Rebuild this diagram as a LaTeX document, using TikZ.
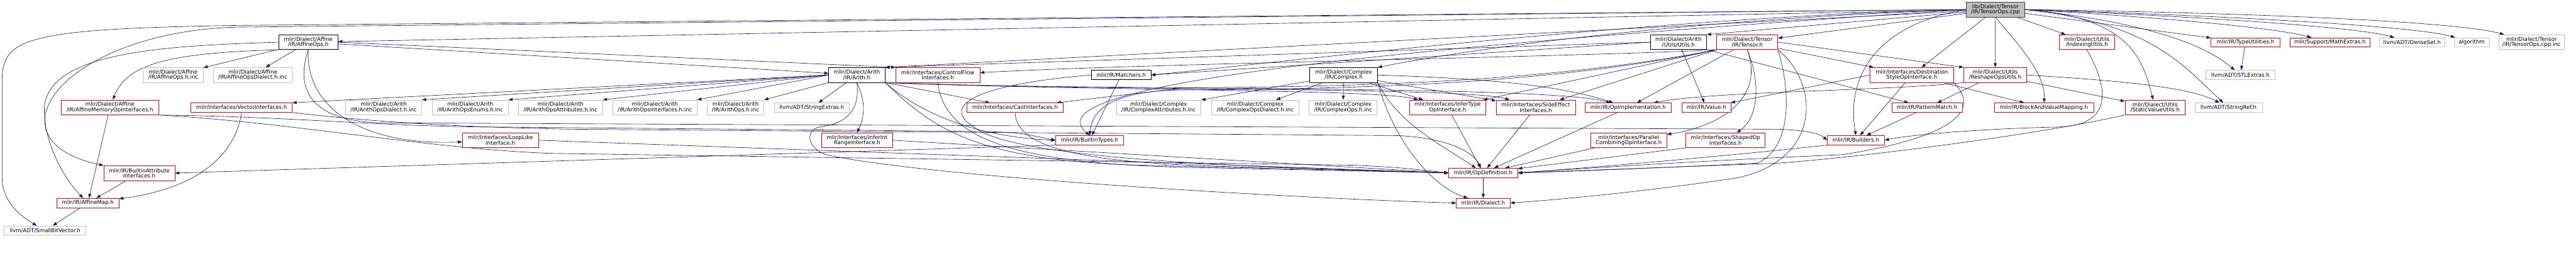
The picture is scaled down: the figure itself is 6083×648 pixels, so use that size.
\documentclass[tikz,border=0pt]{standalone}
\usepackage{fontspec}
\setmainfont{DejaVu Sans}
\usetikzlibrary{arrows.meta,backgrounds}

\definecolor{azulnoche}{HTML}{191970}
\definecolor{grisclaro}{HTML}{BFBFBF}

\begin{document}
\begin{tikzpicture}[x=0.75pt,y=0.75pt,
  caja/.style={draw,fill=white,line width=0.75pt,inner xsep=2pt,inner ysep=1pt,
    align=center,font=\fontsize{9.6}{9.4}\selectfont},
  wd/.style={minimum width=#1*0.75pt},
  ln1/.style={minimum height=16.5pt},
  ln2/.style={minimum height=26.25pt},
  doc/.style={caja,draw=black},
  trunc/.style={caja,draw=red},
  ext/.style={caja,draw=grisclaro},
  raiz/.style={caja,draw=black!75,fill=grisclaro},
  inc/.style={draw=azulnoche,line width=0.7pt,-{Triangle[length=7.5pt,width=5.5pt]}}]
  \useasboundingbox (0,0) rectangle (6083,-648);

  % Nodo raiz
  \node[raiz,wd=138,ln2] (root) at (4712,-22.5) {lib/Dialect/Tensor\\/IR/TensorOps.cpp};

  % Fila 2
  \node[doc,wd=140,ln2] (affops) at (728,-99.5) {mlir/Dialect/Affine\\/IR/AffineOps.h};
  \node[doc,wd=133,ln2] (aruti) at (3963.5,-99.5) {mlir/Dialect/Arith\\/Utils/Utils.h};
  \node[trunc,wd=144,ln2] (tensorh) at (4126,-99.5) {mlir/Dialect/Tensor\\/IR/Tensor.h};
  \node[trunc,wd=132,ln2] (indexu) at (4928,-99.5) {mlir/Dialect/Utils\\/IndexingUtils.h};
  \node[trunc,wd=163,ln1] (typeu) at (5302.5,-100) {mlir/IR/TypeUtilities.h};
  \node[trunc,wd=188,ln1] (mathx) at (5502,-100) {mlir/Support/MathExtras.h};
  \node[ext,wd=154,ln1] (dset) at (5696,-100) {llvm/ADT/DenseSet.h};
  \node[ext,wd=83,ln1] (algo) at (5836.5,-100) {algorithm};
  \node[ext,wd=154,ln2] (cppinc) at (5978,-99.5) {mlir/Dialect/Tensor\\/IR/TensorOps.cpp.inc};

  % Fila 3
  \node[ext,wd=142,ln2] (affinc) at (409,-177) {mlir/Dialect/Affine\\/IR/AffineOps.h.inc};
  \node[ext,wd=186,ln2] (affdinc) at (597,-177) {mlir/Dialect/Affine\\/IR/AffineOpsDialect.h.inc};
  \node[doc,wd=133,ln2] (arith) at (2023.5,-177) {mlir/Dialect/Arith\\/IR/Arith.h};
  \node[trunc,wd=199,ln2] (cflow) at (2214.5,-177) {mlir/Interfaces/ControlFlow\\Interfaces.h};
  \node[doc,wd=141,ln1] (matchers) at (2647.5,-177) {mlir/IR/Matchers.h};
  \node[doc,wd=160,ln2] (complex) at (3173,-177) {mlir/Dialect/Complex\\/IR/Complex.h};
  \node[trunc,wd=197,ln2] (dstyle) at (4514.5,-177) {mlir/Interfaces/Destination\\StyleOpInterface.h};
  \node[trunc,wd=149,ln2] (reshape) at (4711.5,-177) {mlir/Dialect/Utils\\/ReshapeOpsUtils.h};
  \node[ext,wd=163,ln1] (stlx) at (5290.5,-177) {llvm/ADT/STLExtras.h};

  % Fila 4
  \node[trunc,wd=231,ln2] (affmem) at (259.5,-253.5) {mlir/Dialect/Affine\\/IR/AffineMemoryOpInterfaces.h};
  \node[trunc,wd=239,ln1] (vecif) at (570.5,-254) {mlir/Interfaces/VectorInterfaces.h};
  \node[ext,wd=180,ln2] (arodinc) at (906,-253.5) {mlir/Dialect/Arith\\/IR/ArithOpsDialect.h.inc};
  \node[ext,wd=179,ln2] (aroeinc) at (1110.5,-253.5) {mlir/Dialect/Arith\\/IR/ArithOpsEnums.h.inc};
  \node[ext,wd=199,ln2] (aroainc) at (1323.5,-253.5) {mlir/Dialect/Arith\\/IR/ArithOpsAttributes.h.inc};
  \node[ext,wd=199,ln2] (aroiinc) at (1546.5,-253.5) {mlir/Dialect/Arith\\/IR/ArithOpsInterfaces.h.inc};
  \node[ext,wd=134,ln2] (aroinc) at (1737,-253.5) {mlir/Dialect/Arith\\/IR/ArithOps.h.inc};
  \node[ext,wd=178,ln1] (strx) at (1917,-254) {llvm/ADT/StringExtras.h};
  \node[trunc,wd=228,ln1] (castif) at (2397,-254) {mlir/Interfaces/CastInterfaces.h};
  \node[ext,wd=200,ln2] (cpxainc) at (2736,-253.5) {mlir/Dialect/Complex\\/IR/ComplexAttributes.h.inc};
  \node[ext,wd=206,ln2] (cpxdinc) at (2964,-253.5) {mlir/Dialect/Complex\\/IR/ComplexOpsDialect.h.inc};
  \node[ext,wd=161,ln2] (cpxoinc) at (3171.5,-253.5) {mlir/Dialect/Complex\\/IR/ComplexOps.h.inc};
  \node[trunc,wd=181,ln2] (inftype) at (3418.5,-253.5) {mlir/Interfaces/InferType\\OpInterface.h};
  \node[trunc,wd=187,ln2] (sideeff) at (3626.5,-253.5) {mlir/Interfaces/SideEffect\\Interfaces.h};
  \node[trunc,wd=203,ln1] (opimpl) at (3844.5,-254) {mlir/IR/OpImplementation.h};
  \node[trunc,wd=117,ln1] (value) at (4029.5,-254) {mlir/IR/Value.h};
  \node[trunc,wd=167,ln1] (patmatch) at (4550.5,-254) {mlir/IR/PatternMatch.h};
  \node[trunc,wd=235,ln1] (bvmap) at (4826.5,-254) {mlir/IR/BlockAndValueMapping.h};
  \node[trunc,wd=142,ln2] (staticv) at (5089,-253.5) {mlir/Dialect/Utils\\/StaticValueUtils.h};
  \node[ext,wd=159,ln1] (strref) at (5262.5,-254) {llvm/ADT/StringRef.h};

  % Fila 5
  \node[trunc,wd=179,ln2] (looplike) at (1181.5,-331) {mlir/Interfaces/LoopLike\\Interface.h};
  \node[trunc,wd=168,ln2] (infint) at (2024,-331) {mlir/Interfaces/InferInt\\RangeInterface.h};
  \node[trunc,wd=160,ln1] (btypes) at (2573,-331) {mlir/IR/BuiltinTypes.h};
  \node[trunc,wd=180,ln2] (parcomb) at (3846,-331) {mlir/Interfaces/Parallel\\CombiningOpInterface.h};
  \node[trunc,wd=187,ln2] (shaped) at (4074.5,-331) {mlir/Interfaces/ShapedOp\\Interfaces.h};
  \node[trunc,wd=135,ln1] (builders) at (4382.5,-331) {mlir/IR/Builders.h};

  % Filas 6 a 8
  \node[trunc,wd=168,ln2] (battrif) at (329,-408.5) {mlir/IR/BuiltinAttribute\\Interfaces.h};
  \node[trunc,wd=163,ln1] (opdef) at (3502.5,-408) {mlir/IR/OpDefinition.h};
  \node[trunc,wd=147,ln1] (affmap) at (207.5,-479) {mlir/IR/AffineMap.h};
  \node[trunc,wd=127,ln1] (dialect) at (3502.5,-479) {mlir/IR/Dialect.h};
  \node[ext,wd=193,ln1] (sbv) at (106.5,-544) {llvm/ADT/SmallBitVector.h};

  % Aristas (en el fondo)
  \begin{pgfonlayer}{background}
  \fill[white] (0,0) rectangle (6083,-648);

  % Desde la raiz
  \draw[inc] (root) -- (affops);
  \draw[inc] (root) -- (arith.north east);
  \draw[inc] (root) -- (aruti.north east);
  \draw[inc] (root.west) .. controls (4000,-45) and (3500,-110) .. (complex.north east);
  \draw[inc] (root) -- (tensorh);
  \draw[inc] (root) -- (indexu);
  \draw[inc] (root) -- (reshape);
  \draw[inc] (root.east) .. controls (5030,-40) and (5060,-140) .. (staticv);
  \draw[inc] (root.south) .. controls (4760,-100) and (4830,-170) .. (bvmap);
  \draw[inc] (root.west) .. controls (4420,-60) and (4360,-190) .. (builders.north);
  \draw[inc] (root.west) -- (560,-64) .. controls (150,-75) and (-40,-330) .. (battrif);
  \draw[inc] (root.west) .. controls (3000,-130) and (2450,-215) .. (btypes.north);
  \draw[inc] (root.west) .. controls (3900,-40) and (3000,-150) .. (matchers.east);
  \draw[inc] (root) -- (typeu);
  \draw[inc] (root) -- (dstyle);
  \draw[inc] (root.east) .. controls (5000,-35) and (5350,-60) .. (mathx);
  \draw[inc] (root.east) .. controls (5100,-35) and (5550,-60) .. (dset);
  \draw[inc] (root.east) .. controls (5200,-35) and (5700,-60) .. (algo);
  \draw[inc] (root.east) .. controls (5300,-30) and (5800,-50) .. (cppinc);
  \draw[inc] (root.east) .. controls (5050,-50) and (5200,-100) .. (stlx);
  \draw[inc] (root.west) -- (560,-60) .. controls (60,-68) and (5,-90) .. (5,-190)
    -- (5,-420) .. controls (5,-470) and (40,-505) .. (sbv);
  \draw[inc] (root.east) .. controls (5080,-55) and (5150,-150) .. (strref);

  % AffineOps.h
  \draw[inc] (affops.south west) .. controls (400,-125) and (300,-150) .. (affmem);
  \draw[inc] (affops) -- (affdinc);
  \draw[inc] (affops) -- (affinc);
  \draw[inc] (affops.west) .. controls (400,-108) and (120,-120) .. (105,-250)
    .. controls (100,-330) and (150,-420) .. (affmap);
  \draw[inc] (affops) -- (arith);
  \draw[inc] (affops.east) -- (cflow.north west);
  \draw[inc] (affops.south) .. controls (720,-250) and (850,-345) .. (looplike);
  \draw[inc] (affops.south) .. controls (700,-200) and (720,-285) .. (900,-290)
    -- (4200,-305) .. controls (4280,-308) and (4300,-318) .. (builders.west);

  % Arith.h
  \draw[inc] (arith.west) -- (arodinc.north east);
  \draw[inc] (arith.west) -- (aroeinc.north east);
  \draw[inc] (arith.west) -- (aroainc.north east);
  \draw[inc] (arith.west) -- (aroiinc.north east);
  \draw[inc] (arith) -- (aroinc);
  \draw[inc] (arith) -- (strx);
  \draw[inc] (arith.west) -- (vecif.north east);
  \draw[inc] (arith.south) to[bend left=25] (infint.north);
  \draw[inc] (arith.south) .. controls (2032,-270) and (1990,-292) .. (1935,-300)
    .. controls (1905,-305) and (1900,-345) .. (1950,-365)
    .. controls (2200,-420) and (3100,-470) .. (dialect.west);
  \draw[inc] (arith.south east) .. controls (2200,-300) and (2300,-380) .. (2700,-390) -- (opdef.west);
  \draw[inc] (arith.south east) .. controls (2200,-290) and (2350,-325) .. (btypes.west);
  \draw[inc] (arith.south east) .. controls (2600,-215) and (3650,-200) .. (opimpl);
  \draw[inc] (arith.south east) .. controls (2600,-215) and (3250,-210) .. (inftype);
  \draw[inc] (arith.south east) .. controls (2600,-215) and (3460,-205) .. (sideeff);
  \draw[inc] (arith.south east) -- (castif);

  % Arith/Utils/Utils.h
  \draw[inc] (aruti.west) -- (arith.north east);
  \draw[inc] (aruti.west) -- (matchers.east);
  \draw[inc] (aruti) -- (value);
  \draw[inc] (aruti) -- (patmatch);

  % Complex.h
  \draw[inc] (complex) -- (cpxainc);
  \draw[inc] (complex) -- (cpxdinc);
  \draw[inc] (complex) -- (cpxoinc);
  \draw[inc] (complex) -- (inftype);
  \draw[inc] (complex) -- (sideeff);
  \draw[inc] (complex.east) .. controls (3500,-185) and (3680,-200) .. (opimpl);
  \draw[inc] (complex.south east) .. controls (3300,-290) and (3400,-340) .. (opdef);
  \draw[inc] (complex.south east) .. controls (3290,-330) and (3380,-440) .. (dialect);

  % Tensor.h
  \draw[inc] (tensorh.east) -- (reshape.north west);
  \draw[inc] (tensorh) -- (dstyle);
  \draw[inc] (tensorh.south west) .. controls (3700,-190) and (3300,-210) .. (2800,-212)
    .. controls (2620,-214) and (2580,-260) .. (btypes.north);
  \draw[inc] (tensorh.south west) .. controls (3700,-185) and (3300,-205) .. (2800,-207) -- (castif);
  \draw[inc] (tensorh.south west) .. controls (3700,-135) and (2700,-150) .. (cflow);
  \draw[inc] (tensorh.south west) -- (inftype);
  \draw[inc] (tensorh.south west) -- (sideeff);
  \draw[inc] (tensorh) -- (opimpl);
  \draw[inc] (tensorh.south) .. controls (4170,-240) and (4050,-300) .. (parcomb);
  \draw[inc] (tensorh.south) .. controls (4160,-200) and (4150,-280) .. (shaped);
  \draw[inc] (tensorh.south east) .. controls (4230,-220) and (4230,-350) .. (4150,-385)
    .. controls (3950,-395) and (3700,-405) .. (opdef.east);
  \draw[inc] (tensorh.south east) .. controls (4300,-200) and (4300,-380) .. (4100,-420)
    .. controls (3900,-450) and (3700,-470) .. (dialect.east);

  % ReshapeOpsUtils.h y DestinationStyleOpInterface.h
  \draw[inc] (reshape) -- (patmatch);
  \draw[inc] (reshape) -- (staticv);
  \draw[inc] (reshape.east) .. controls (5000,-190) and (5170,-205) .. (strref);
  \draw[inc] (reshape.south west) .. controls (4450,-215) and (4050,-215) .. (opimpl);
  \draw[inc] (dstyle) -- (bvmap);
  \draw[inc] (dstyle) -- (builders);
  \draw[inc] (dstyle.west) -- (value);
  \draw[inc] (dstyle.south east) .. controls (4670,-250) and (4640,-320) .. (4350,-365)
    .. controls (4000,-380) and (3700,-400) .. (opdef.east);

  % Otros
  \draw[inc] (patmatch) -- (builders);
  \draw[inc] (typeu) -- (stlx);
  \draw[inc] (indexu.south) .. controls (4975,-200) and (5000,-300) .. (4850,-300)
    .. controls (4650,-305) and (4500,-320) .. (builders.east);
  \draw[inc] (staticv.south west) .. controls (4800,-320) and (4400,-370) .. (4200,-385) -- (opdef.east);
  \draw[inc] (builders.south west) .. controls (4200,-355) and (3900,-385) .. (opdef.east);
  \draw[inc] (affmem) -- (affmap);
  \draw[inc] (affmem.south east) .. controls (700,-290) and (1000,-350) .. (1300,-362)
    -- (3200,-390) .. controls (3300,-395) .. (opdef.west);
  \draw[inc] (affmem.south east) .. controls (700,-275) and (900,-300) .. (1200,-300)
    -- (2300,-310) .. controls (2400,-312) .. (btypes.west);
  \draw[inc] (vecif.south) .. controls (560,-340) and (500,-440) .. (affmap);
  \draw[inc] (vecif.south east) .. controls (900,-290) and (1100,-300) .. (1350,-305)
    -- (3300,-320) .. controls (3420,-325) and (3480,-360) .. (opdef);
  \draw[inc] (battrif) -- (affmap);
  \draw[inc] (affmap) -- (sbv);
  \draw[inc] (btypes.south west) -- (battrif.east);
  \draw[inc] (looplike.east) -- (opdef.west);
  \draw[inc] (infint.east) -- (opdef.west);
  \draw[inc] (cflow.south) .. controls (2230,-330) and (2400,-385) .. (2800,-395) -- (opdef.west);
  \draw[inc] (castif.south) .. controls (2400,-360) and (2600,-390) .. (3000,-395) -- (opdef.west);
  \draw[inc] (matchers) -- (btypes);
  \draw[inc] (matchers.west) .. controls (2300,-200) and (2220,-250) .. (2300,-300)
    .. controls (2400,-380) and (3000,-395) .. (opdef.west);
  \draw[inc] (inftype) -- (opdef);
  \draw[inc] (sideeff) -- (opdef);
  \draw[inc] (opimpl) -- (opdef);
  \draw[inc] (parcomb) -- (opdef);
  \draw[inc] (shaped.south west) -- (opdef);
  \draw[inc] (opdef) -- (dialect);
  \end{pgfonlayer}
\end{tikzpicture}
\end{document}
